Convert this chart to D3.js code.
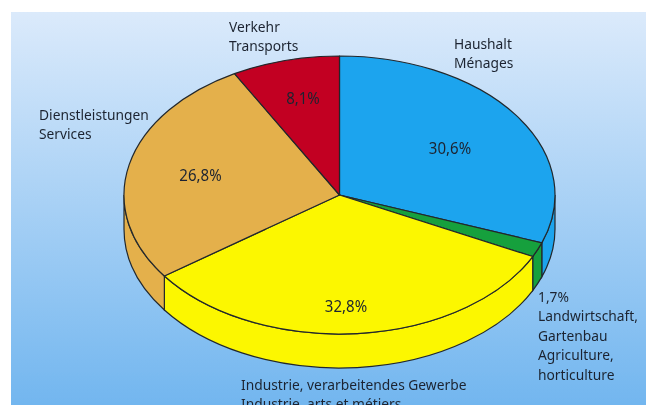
<!DOCTYPE html>
<html>
<head>
<meta charset="utf-8">
<script src="https://cdn.jsdelivr.net/npm/d3@7"></script>
<style>
  html, body { margin: 0; padding: 0; background: #fff; }
  svg { display: block; }
  text { font-family: "Noto Sans", "Open Sans", sans-serif; fill: #1c2430; }
</style>
</head>
<body>
<svg id="chart" width="646" height="405"></svg>
<script>
// Reihenfolge im Uhrzeigersinn ab 12 Uhr
const categories = ["Haushalt", "Landwirtschaft", "Industrie", "Dienstleistungen", "Verkehr"];
const shares = [30.6, 1.7, 32.8, 26.8, 8.1];
const percentLabels = ["30,6%", "1,7%", "32,8%", "26,8%", "8,1%"];
const sliceColors = ["#1ca4ee", "#17a03c", "#fcf700", "#e4b04c", "#c20024"];

const categoryLabels = [
  ["Haushalt", "Ménages"],
  ["1,7%", "Landwirtschaft,", "Gartenbau", "Agriculture,", "horticulture"],
  ["Industrie, verarbeitendes Gewerbe", "Industrie, arts et métiers"],
  ["Dienstleistungen", "Services"],
  ["Verkehr", "Transports"]
];

const cx = 339.5, cy = 195, rx = 215.5, ry = 139, depth = 34;
const squash = ry / rx;

const svg = d3.select("#chart");
const defs = svg.append("defs");

/* Hintergrund */
const grad = defs.append("linearGradient")
  .attr("id", "bg").attr("x1", 0).attr("y1", 0).attr("x2", 0).attr("y2", 1);
grad.append("stop").attr("offset", "0%").attr("stop-color", "#dbeafb");
grad.append("stop").attr("offset", "100%").attr("stop-color", "#72b6ef");

// Vorlage ist leicht unscharf
defs.append("filter").attr("id", "soft")
  .append("feGaussianBlur").attr("stdDeviation", 0.35);

const root = svg.append("g").attr("filter", "url(#soft)");

root.append("rect")
  .attr("x", 11).attr("y", 12)
  .attr("width", 635).attr("height", 393)
  .attr("fill", "url(#bg)");

const pie = d3.pie().sort(null).value((d) => d);
const slices = pie(shares);

// Kreis wird in y gestaucht, Linienstaerke bleibt gleich
const g = root.append("g")
  .attr("transform", `translate(${cx},${cy}) scale(1,${squash})`);

/* Seitenwand: nur die vordere Haelfte (90 bis 270 Grad) ist sichtbar */
const d3Angle = (a) => a - Math.PI / 2;
const wallDepth = depth / squash;

slices.forEach((s, i) => {
  const a0 = Math.max(s.startAngle, Math.PI / 2),
        a1 = Math.min(s.endAngle, Math.PI * 3 / 2);
  if (a1 <= a0) return;
  const p = d3.path();
  p.arc(0, 0, rx, d3Angle(a0), d3Angle(a1));
  p.arc(0, wallDepth, rx, d3Angle(a1), d3Angle(a0), true);
  p.closePath();
  g.append("path")
    .attr("d", p.toString())
    .attr("fill", sliceColors[i])
    .attr("stroke", "#23282c")
    .attr("stroke-width", 1.2)
    .attr("vector-effect", "non-scaling-stroke");
});

/* Deckel */
const arc = d3.arc().innerRadius(0).outerRadius(rx);
g.selectAll(".slice")
  .data(slices)
  .enter()
  .append("path")
  .attr("class", "slice")
  .attr("d", arc)
  .attr("fill", (d, i) => sliceColors[i])
  .attr("stroke", "#23282c")
  .attr("stroke-width", 1.2)
  .attr("stroke-linejoin", "round")
  .attr("vector-effect", "non-scaling-stroke");

/* Prozentwerte */
const percentPos = [[450, 148], null, [346, 306], [200.5, 175], [303, 98]];
percentLabels.forEach((t, i) => {
  if (!percentPos[i]) return;
  root.append("text")
    .attr("transform", `translate(${percentPos[i][0]},${percentPos[i][1] + 5.5}) scale(0.97,1)`)
    .attr("text-anchor", "middle")
    .attr("font-size", 15.5)
    .text(t);
});

/* Beschriftungen, Schrift der Vorlage ist schmaler */
const labelPos = [[454, 49], [538, 302], [241, 390], [39, 120], [229, 32]];
categoryLabels.forEach((lines, i) => {
  const txt = root.append("text")
    .attr("transform", `translate(${labelPos[i][0]},${labelPos[i][1]}) scale(0.92,1)`)
    .attr("font-size", 15);
  lines.forEach((l, k) => {
    txt.append("tspan")
      .attr("x", 0)
      .attr("y", k * 19.5)
      .text(l);
  });
});
</script>
</body>
</html>
